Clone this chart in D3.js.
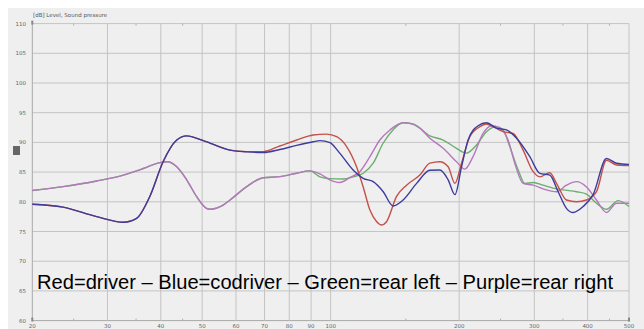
<!DOCTYPE html>
<html><head><meta charset="utf-8">
<script src="https://cdn.jsdelivr.net/npm/d3@7"></script>
<style>body{margin:0;background:#fff}svg{display:block}</style>
</head><body>
<svg id="c" width="644" height="329"></svg>
<script>
const yTicks = [60,65,70,75,80,85,90,95,100,105,110];
const xTicks = [20,30,40,50,60,70,80,90,100,200,300,400,500];
const xMinor = [25,35,45,150,250,350,450];

const blueF = [20,23.6,28.3,32.7,35.1,37.7,40.5,43.6,46,50.3,58.1,63.6,69.5,76,83.2,91,94.4,99.6,105,112.9,119.2,125.8,132.8,140,147.8,159,170.8,180.2,188.5,195.5,202.6,209.9,221.5,231.8,244.6,258.2,272.6,292.8,309,326.2,341.2,356.8,369.8,390.4,412,442.8,467.4,500];
const blueV = [79.6,79.1,77.5,76.55,77.2,80.9,86.75,90.4,91.1,90.3,88.7,88.4,88.3,88.8,89.5,90.1,90.3,89.95,88.2,85.35,83.95,83.4,81.7,79.3,80.3,83.1,85.3,85.35,83.7,81.2,85.9,90.4,92.8,93.3,92.4,92.1,90.7,87.6,84.8,84.5,81.7,78.9,78.2,79.2,81.2,87.3,86.5,86.3];

const redF = [20,23.6,28.3,32.7,35.1,37.7,40.5,43.6,46,50.3,58.1,63.6,69.5,76,83.2,91,97.8,103.3,109,115,119.2,123.6,128.2,131.6,135.2,142.7,150.6,161.8,170.8,180.2,188.5,195.5,202.6,211.8,223.6,231.8,240.2,253.6,267.6,282.4,298.2,309,326.2,338.2,356.8,376.8,397.6,419.6,442.8,467.4,500];
const redV = [79.6,79.1,77.5,76.55,77.2,80.9,86.75,90.4,91.1,90.3,88.7,88.45,88.45,89.4,90.4,91.25,91.4,90.96,89.3,85.9,82.5,78.6,76.65,76.1,76.65,80.9,82.8,84.5,86.5,86.75,85.9,83.1,86.5,90.96,92.65,93.1,92.65,91.8,91.5,88.7,85.07,84.2,84.9,83.1,80.3,80,80.3,81.7,87,86.2,86.1];

const purpleF = [20,23.6,28.3,32.7,36.4,39.8,41.5,43.6,46,48.5,51.2,52,56,58.1,63.6,69.5,76,83.2,89.4,94.4,99.6,105,111,117,123.6,130.4,137.7,147.8,153.3,161.8,170.8,183.5,197.2,206.2,215.6,227.6,238.2,249,260.4,270,282.4,298.2,320.4,338.2,356.8,376.8,397.6,419.6,442.8,467.4,500];
const purpleV = [81.9,82.55,83.5,84.5,85.6,86.6,86.75,85.9,83.7,80.9,78.9,78.75,79.45,80.3,82.55,84.06,84.23,84.8,85.2,84.7,83.7,83.25,84.1,85.07,87.6,90.4,92.1,93.3,93.2,92.4,90.7,89,86.75,85.5,87.6,91.5,92.8,92.4,90.4,86.5,83.1,82.8,82,81.7,82.8,83.4,82.5,80.3,78.2,79.75,79.75];

const greenF = [20,23.6,28.3,32.7,36.4,39.8,41.5,43.6,46,48.5,51.2,52,56,58.1,63.6,69.5,76,83.2,89.4,94.4,99.6,107,112.9,119.2,125.8,132.8,140,147.8,156,170.8,183.5,197.2,208,219.7,231.8,244.6,253.6,262.8,275,285,298.2,314.6,332,350.4,376.8,397.6,419.6,442.8,471.4,500];
const greenV = [81.9,82.55,83.5,84.5,85.6,86.6,86.75,85.9,83.7,80.9,78.9,78.75,79.45,80.3,82.55,84.06,84.23,84.8,85.2,84.2,83.9,83.85,84.2,84.8,86.5,89.9,92.1,93.3,93.1,91.1,90.4,89,88.2,89.56,91.8,92.65,92.1,89.3,85.35,83.1,83.25,82.8,82.3,82,81.7,81.3,79.75,78.75,80.2,79.2];

const seriesNames = ["green","purple","red","blue"];
const seriesColors = ["#6cae6c","#b577bd","#c4504a","#3c3c9c"];
const seriesF = [greenF, purpleF, redF, blueF];
const seriesV = [greenV, purpleV, redV, blueV];

const svg = d3.select("#c");
svg.append("rect").attr("x",8).attr("y",8).attr("width",636).attr("height",321).attr("fill","#efefef");

const x = d3.scaleLog().domain([20,500]).range([32.3,629]);
const y = d3.scaleLinear().domain([60,110]).range([320.6,23.6]);

// grid
const g = svg.append("g");
g.selectAll("line.h").data(yTicks).join("line")
  .attr("x1",x(20)).attr("x2",x(500)).attr("y1",d=>y(d)).attr("y2",d=>y(d))
  .attr("stroke",d=> d===60 ? "#a8a8a8" : "#c4c4c4").attr("stroke-width",1);
g.selectAll("line.v").data(xTicks).join("line")
  .attr("x1",d=>x(d)).attr("x2",d=>x(d)).attr("y1",y(60)).attr("y2",y(110))
  .attr("stroke",d=> d===20 ? "#a8a8a8" : "#c4c4c4").attr("stroke-width",1);
g.selectAll("line.mt").data(xMinor).join("line")
  .attr("x1",d=>x(d)).attr("x2",d=>x(d)).attr("y1",y(110)).attr("y2",y(110)+2)
  .attr("stroke","#b0b0b0");
g.selectAll("line.mb").data(xMinor).join("line")
  .attr("x1",d=>x(d)).attr("x2",d=>x(d)).attr("y1",y(60)).attr("y2",y(60)-2)
  .attr("stroke","#b0b0b0");

// axis labels
svg.append("g").selectAll("text").data(yTicks).join("text")
  .attr("x",26).attr("y",d=>y(d)+2).attr("text-anchor","end")
  .attr("font-family","DejaVu Sans, sans-serif").attr("font-size",5.5).attr("fill","#666")
  .text(d=>d);
svg.append("g").selectAll("text").data(xTicks).join("text")
  .attr("x",d=>x(d)).attr("y",327.5).attr("text-anchor","middle")
  .attr("font-family","DejaVu Sans, sans-serif").attr("font-size",5.5).attr("fill","#666")
  .text(d=>d);

svg.append("text").attr("x",33).attr("y",17)
  .attr("font-family","DejaVu Sans, sans-serif").attr("font-size",5.5).attr("fill","#555")
  .text("[dB]  Level, Sound pressure");

// corner markers
[[x(20),y(110)],[x(20),y(60)],[x(500),y(60)]].forEach(p=>{
  svg.append("rect").attr("x",p[0]-1).attr("y",p[1]-3).attr("width",2).attr("height",4).attr("fill","#888");
});
svg.append("rect").attr("x",13).attr("y",146).attr("width",7).attr("height",9).attr("fill","#666");

// curves
const line = d3.line().x(d=>x(d[0])).y(d=>y(d[1])).curve(d3.curveMonotoneX);
seriesNames.forEach((n,i)=>{
  const pts = seriesF[i].map((f,j)=>[f, seriesV[i][j]]);
  svg.append("path").datum(pts).attr("d",line)
    .attr("fill","none").attr("stroke",seriesColors[i]).attr("stroke-width",1.4)
    .attr("stroke-linejoin","round");
});

// legend text
svg.append("text").attr("x",37).attr("y",289)
  .attr("font-family","Liberation Sans, Arial, sans-serif").attr("font-size",20).attr("fill","#000")
  .attr("textLength",576).attr("lengthAdjust","spacingAndGlyphs")
  .text("Red=driver \u2013 Blue=codriver \u2013 Green=rear left \u2013 Purple=rear right");
</script>
</body></html>
